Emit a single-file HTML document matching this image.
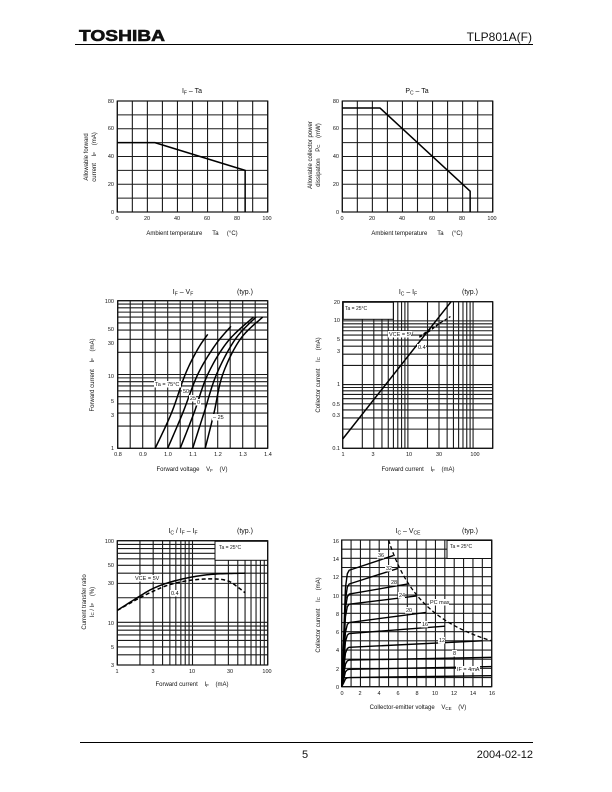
<!DOCTYPE html>
<html><head><meta charset="utf-8"><style>
body{margin:0;background:#fff}
svg{display:block}
text{font-family:"Liberation Sans",Arial,sans-serif;fill:#111;white-space:pre}
.t{font-size:7px}
.s{font-size:5.5px}
.a{font-size:6px}
</style></head><body>
<svg id="s" width="612" height="792" viewBox="0 0 612 792" xmlns="http://www.w3.org/2000/svg" xml:space="preserve">
<rect width="612" height="792" fill="#fff"/>
<g id="g"></g>
<text x="79" y="41" textLength="86" lengthAdjust="spacingAndGlyphs" style="font-size:16px;font-weight:bold;stroke:#111;stroke-width:0.6">TOSHIBA</text>
<text x="532" y="41" text-anchor="end" style="font-size:12px">TLP801A(F)</text>
<line x1="75" y1="44.5" x2="533" y2="44.5" stroke="#000" stroke-width="1"/>
<line x1="80" y1="742.5" x2="533" y2="742.5" stroke="#000" stroke-width="1"/>
<text x="305" y="758" text-anchor="middle" style="font-size:11px">5</text>
<text x="533" y="758" text-anchor="end" style="font-size:11px">2004-02-12</text>

<text class="t" x="192" y="93" text-anchor="middle">I<tspan font-size="5" dy="1.5">F</tspan><tspan dy="-1.5"> – Ta</tspan></text>
<g class="s" text-anchor="end"><text x="114" y="214">0</text><text x="114" y="186">20</text><text x="114" y="158">40</text><text x="114" y="130">60</text><text x="114" y="103">80</text></g>
<g class="s" text-anchor="middle"><text x="117" y="220">0</text><text x="147" y="220">20</text><text x="177" y="220">40</text><text x="207" y="220">60</text><text x="237" y="220">80</text><text x="267" y="220">100</text></g>
<text class="a" x="192" y="235" text-anchor="middle">Ambient temperature      Ta     (°C)</text>
<text class="a" transform="translate(88,157) rotate(-90)" text-anchor="middle">Allowable forward</text>
<text class="a" transform="translate(96,157) rotate(-90)" text-anchor="middle">current    I<tspan font-size="4.5">F</tspan>    (mA)</text>

<text class="t" x="417" y="93" text-anchor="middle">P<tspan font-size="5" dy="1.5">C</tspan><tspan dy="-1.5"> – Ta</tspan></text>
<g class="s" text-anchor="end"><text x="339" y="214">0</text><text x="339" y="186">20</text><text x="339" y="158">40</text><text x="339" y="130">60</text><text x="339" y="103">80</text></g>
<g class="s" text-anchor="middle"><text x="342" y="220">0</text><text x="372" y="220">20</text><text x="402" y="220">40</text><text x="432" y="220">60</text><text x="462" y="220">80</text><text x="492" y="220">100</text></g>
<text class="a" x="417" y="235" text-anchor="middle">Ambient temperature      Ta     (°C)</text>
<text class="a" transform="translate(312,155) rotate(-90)" text-anchor="middle">Allowable collector power</text>
<text class="a" transform="translate(320,155) rotate(-90)" text-anchor="middle">dissipation    P<tspan font-size="4.5">C</tspan>    (mW)</text>

<text class="t" x="183" y="294" text-anchor="middle">I<tspan font-size="5" dy="1.5">F</tspan><tspan dy="-1.5"> – V</tspan><tspan font-size="5" dy="1.5">F</tspan></text>
<text class="t" x="245" y="294" text-anchor="middle">(typ.)</text>
<g class="s" text-anchor="end"><text x="114" y="450">1</text><text x="114" y="417">3</text><text x="114" y="403">5</text><text x="114" y="378">10</text><text x="114" y="345">30</text><text x="114" y="331">50</text><text x="114" y="303">100</text></g>
<g class="s" text-anchor="middle"><text x="118" y="456">0.8</text><text x="143" y="456">0.9</text><text x="168" y="456">1.0</text><text x="193" y="456">1.1</text><text x="218" y="456">1.2</text><text x="243" y="456">1.3</text><text x="268" y="456">1.4</text></g>
<text class="a" x="192" y="471" text-anchor="middle">Forward voltage    V<tspan font-size="4.5" dy="1">F</tspan><tspan dy="-1">    (V)</tspan></text>
<text class="a" transform="translate(94,375) rotate(-90)" text-anchor="middle">Forward current    I<tspan font-size="4.5">F</tspan>    (mA)</text>

<text class="t" x="408" y="294" text-anchor="middle">I<tspan font-size="5" dy="1.5">C</tspan><tspan dy="-1.5"> – I</tspan><tspan font-size="5" dy="1.5">F</tspan></text>
<text class="t" x="470" y="294" text-anchor="middle">(typ.)</text>
<g class="s" text-anchor="end"><text x="340" y="450">0.1</text><text x="340" y="417">0.3</text><text x="340" y="406">0.5</text><text x="340" y="386">1</text><text x="340" y="353">3</text><text x="340" y="341">5</text><text x="340" y="322">10</text><text x="340" y="304">20</text></g>
<g class="s" text-anchor="middle"><text x="343" y="456">1</text><text x="373" y="456">3</text><text x="409" y="456">10</text><text x="439" y="456">30</text><text x="475" y="456">100</text></g>
<text class="a" x="418" y="471" text-anchor="middle">Forward current    I<tspan font-size="4.5" dy="1">F</tspan><tspan dy="-1">    (mA)</tspan></text>
<text class="a" transform="translate(320,375) rotate(-90)" text-anchor="middle">Collector current    I<tspan font-size="4.5">C</tspan>    (mA)</text>

<text class="t" x="183" y="533" text-anchor="middle">I<tspan font-size="5" dy="1.5">C</tspan><tspan dy="-1.5"> / I</tspan><tspan font-size="5" dy="1.5">F</tspan><tspan dy="-1.5"> – I</tspan><tspan font-size="5" dy="1.5">F</tspan></text>
<text class="t" x="245" y="533" text-anchor="middle">(typ.)</text>
<g class="s" text-anchor="end"><text x="114" y="667">3</text><text x="114" y="649">5</text><text x="114" y="625">10</text><text x="114" y="585">30</text><text x="114" y="567">50</text><text x="114" y="543">100</text></g>
<g class="s" text-anchor="middle"><text x="117" y="673">1</text><text x="153" y="673">3</text><text x="192" y="673">10</text><text x="230" y="673">30</text><text x="267" y="673">100</text></g>
<text class="a" x="192" y="686" text-anchor="middle">Forward current    I<tspan font-size="4.5" dy="1">F</tspan><tspan dy="-1">    (mA)</tspan></text>
<text class="a" transform="translate(86,602) rotate(-90)" text-anchor="middle">Current transfer ratio</text>
<text class="a" transform="translate(94,602) rotate(-90)" text-anchor="middle">I<tspan font-size="4.5">C</tspan> / I<tspan font-size="4.5">F</tspan>    (%)</text>

<text class="t" x="408" y="533" text-anchor="middle">I<tspan font-size="5" dy="1.5">C</tspan><tspan dy="-1.5"> – V</tspan><tspan font-size="5" dy="1.5">CE</tspan></text>
<text class="t" x="470" y="533" text-anchor="middle">(typ.)</text>
<g class="s" text-anchor="end"><text x="339" y="689">0</text><text x="339" y="671">2</text><text x="339" y="652">4</text><text x="339" y="634">6</text><text x="339" y="616">8</text><text x="339" y="598">10</text><text x="339" y="579">12</text><text x="339" y="561">14</text><text x="339" y="543">16</text></g>
<g class="s" text-anchor="middle"><text x="342" y="695">0</text><text x="360" y="695">2</text><text x="379" y="695">4</text><text x="398" y="695">6</text><text x="417" y="695">8</text><text x="435" y="695">10</text><text x="454" y="695">12</text><text x="473" y="695">14</text><text x="492" y="695">16</text></g>
<text class="a" x="418" y="709" text-anchor="middle">Collector-emitter voltage    V<tspan font-size="4.5" dy="1">CE</tspan><tspan dy="-1">    (V)</tspan></text>
<text class="a" transform="translate(320,615) rotate(-90)" text-anchor="middle">Collector current    I<tspan font-size="4.5">C</tspan>    (mA)</text>
<g id="lab"></g>
</svg>
<script>
var g=document.getElementById('g'),NS='http://www.w3.org/2000/svg';
function el(t,a,p){var e=document.createElementNS(NS,t);for(var k in a)e.setAttribute(k,a[k]);(p||g).appendChild(e);return e;}
function ln(x1,y1,x2,y2,w){el('line',{x1:x1,y1:y1,x2:x2,y2:y2,stroke:'#1a1a1a','stroke-width':w||1.1});}
function mk(L,R,T,B,xs,ys){return {L:L,R:R,T:T,B:B,
 X:function(v){return L+(R-L)*xs(v);},Y:function(v){return B-(B-T)*ys(v);}};}
function lin(a,b){return function(v){return (v-a)/(b-a);};}
function lg(a,b){return function(v){return (Math.log10(v)-Math.log10(a))/(Math.log10(b)-Math.log10(a));};}
function logvals(a,b){var r=[];for(var d=-2;d<4;d++)for(var m=1;m<10;m++){var v=m*Math.pow(10,d);if(v>=a*0.999&&v<=b*1.001)r.push(v);}return r;}
function linvals(a,b,s){var r=[];for(var v=a;v<=b+1e-9;v+=s)r.push(v);return r;}
function grid(c,xv,yv){xv.forEach(function(v){ln(c.X(v),c.T,c.X(v),c.B);});yv.forEach(function(v){ln(c.L,c.Y(v),c.R,c.Y(v));});
 el('rect',{x:c.L,y:c.T,width:c.R-c.L,height:c.B-c.T,fill:'none',stroke:'#111','stroke-width':1.2});}
function poly(c,pts,dash,w){var d=pts.map(function(p,i){return (i?'L':'M')+c.X(p[0]).toFixed(2)+' '+c.Y(p[1]).toFixed(2);}).join('');
 var a={d:d,fill:'none',stroke:'#000','stroke-width':w||1.5,'stroke-linejoin':'round'};if(dash)a['stroke-dasharray']=dash;el('path',a);}
function box(x,y,w,h){el('rect',{x:x,y:y,width:w,height:h,fill:'#fff'});}
function smooth(pts,lx,ly,n){
 var P=pts.map(function(p){return [lx?Math.log10(p[0]):p[0],ly?Math.log10(p[1]):p[1]];}),out=[];
 for(var i=0;i<P.length-1;i++){var p0=P[i-1]||P[i],p1=P[i],p2=P[i+1],p3=P[i+2]||P[i+1];
  for(var t=0;t<1;t+=1/(n||12)){var t2=t*t,t3=t2*t;var f=function(k){return 0.5*((2*p1[k])+(-p0[k]+p2[k])*t+(2*p0[k]-5*p1[k]+4*p2[k]-p3[k])*t2+(-p0[k]+3*p1[k]-3*p2[k]+p3[k])*t3);};
   out.push([f(0),f(1)]);}}
 out.push(P[P.length-1]);
 return out.map(function(p){return [lx?Math.pow(10,p[0]):p[0],ly?Math.pow(10,p[1]):p[1]];});}

var c1=mk(117.3,267.7,101,212,lin(0,100),lin(0,80));
grid(c1,linvals(0,100,10),linvals(0,80,10));
poly(c1,[[0,50],[25,50],[85,30],[85,0]]);
var c2=mk(342.3,492.7,101,212,lin(0,100),lin(0,80));
grid(c2,linvals(0,100,10),linvals(0,80,10));
poly(c2,[[0,75],[25,75],[85,15],[85,0]]);
var c3=mk(117.7,267.7,300.7,448.3,lin(0.8,1.4),lg(1,100));
grid(c3,linvals(0.8,1.4,0.05),logvals(1,100));
var vf=[[[0.95,1],[1.015,3],[1.07,10],[1.12,22],[1.16,35]],
[[1.0,1],[1.06,3],[1.12,10],[1.19,25],[1.253,45]],
[[1.05,1],[1.105,3],[1.16,10],[1.24,28],[1.343,60]],
[[1.1,1],[1.145,3],[1.195,10],[1.27,30],[1.353,60]],
[[1.15,1],[1.185,3],[1.22,10],[1.29,30],[1.38,60]]];
vf.forEach(function(p){poly(c3,smooth(p,false,true));});
var c4=mk(342.7,492.7,301.7,448.3,lg(1,200),lg(0.1,20));
grid(c4,logvals(1,200),logvals(0.1,20));
box(343.5,302.5,50,17);
el('rect',{x:343.3,y:302.3,width:50,height:17,fill:'none',stroke:'#111','stroke-width':1});
poly(c4,[[1,0.14],[46,20]]);
poly(c4,[[15,5.7],[25,8],[45,11.7]],'3,2',1.2);
poly(c4,[[15,5.5],[22,7],[32,9.5]],'3,2',1.2);
var c5=mk(117.3,267.7,540.7,665,lg(1,100),lg(3,100));
grid(c5,logvals(1,100),logvals(3,100));
box(215,541.5,52,19);
el('rect',{x:215,y:541.3,width:52.5,height:19,fill:'none',stroke:'#111','stroke-width':1});
poly(c5,smooth([[1,14],[2,21],[3,26],[5,31],[10,36],[20,39],[50,40]],true,true));
poly(c5,smooth([[1,14],[2,20],[3,24],[5,29],[10,33],[20,34],[30,32],[40,27],[50,23]],true,true),'4,2.5');
var c6=mk(341.7,491.7,540,686.7,lin(0,16),lin(0,16));
grid(c6,linvals(0,16,1),linvals(0,16,1));
box(447,541,44,17);
el('rect',{x:447,y:540.5,width:44.7,height:18,fill:'none',stroke:'#111','stroke-width':1});
var cur=[[12.7,14.3,5.5],[11.2,12.9,6],[10.1,11.2,7],[9.0,9.9,8],[7.0,8.1,9],[5.8,6.6,11],[4.3,5.0,15],[2.9,3.2,16],[1.9,2.2,16],[1.0,1.2,16]];
cur.forEach(function(c,i){var s=c[0];poly(c6,[[0,0],[0.2,s*0.4],[0.4,s*0.85],[0.6,s*0.97],[0.8,s],[c[2],c[1]]],null,1.4);});
var pc=[];for(var v=5;v<=16.01;v+=0.25)pc.push([v,80/v]);poly(c6,pc,'4,2.5',1.3);

var L=document.getElementById('lab');
function lab(x,y,t,w){el('rect',{x:x-1,y:y-5,width:w,height:6.5,fill:'#fff'},L);var e=el('text',{x:x,y:y,'font-size':'5.5'},L);e.textContent=t;}
lab(155,386,'Ta = 75°C',27);lab(183,393,'50',7);lab(190,400,'25',7);lab(197,404,'0',5);lab(213,419,'– 25',12);
lab(389,336,'VCE = 5V',24);lab(418,349,'0.4',9);
lab(135,580,'VCE = 5V',25);lab(171,595,'0.4',9);
lab(378,557,'36',7);lab(386,570,'32',7);lab(391,584,'28',7);lab(399,597,'24',7);lab(406,612,'20',7);lab(422,626,'16',7);lab(439,642,'12',7);lab(453,655,'8',5);lab(457,671,'IF = 4mA',24);lab(430,604,'PC max',20);
var t=el('text',{x:345,y:310,'font-size':'5'},L);t.textContent='Ta = 25°C';
t=el('text',{x:219,y:549,'font-size':'5'},L);t.textContent='Ta = 25°C';
t=el('text',{x:450,y:548,'font-size':'5'},L);t.textContent='Ta = 25°C';
</script>
</body></html>
